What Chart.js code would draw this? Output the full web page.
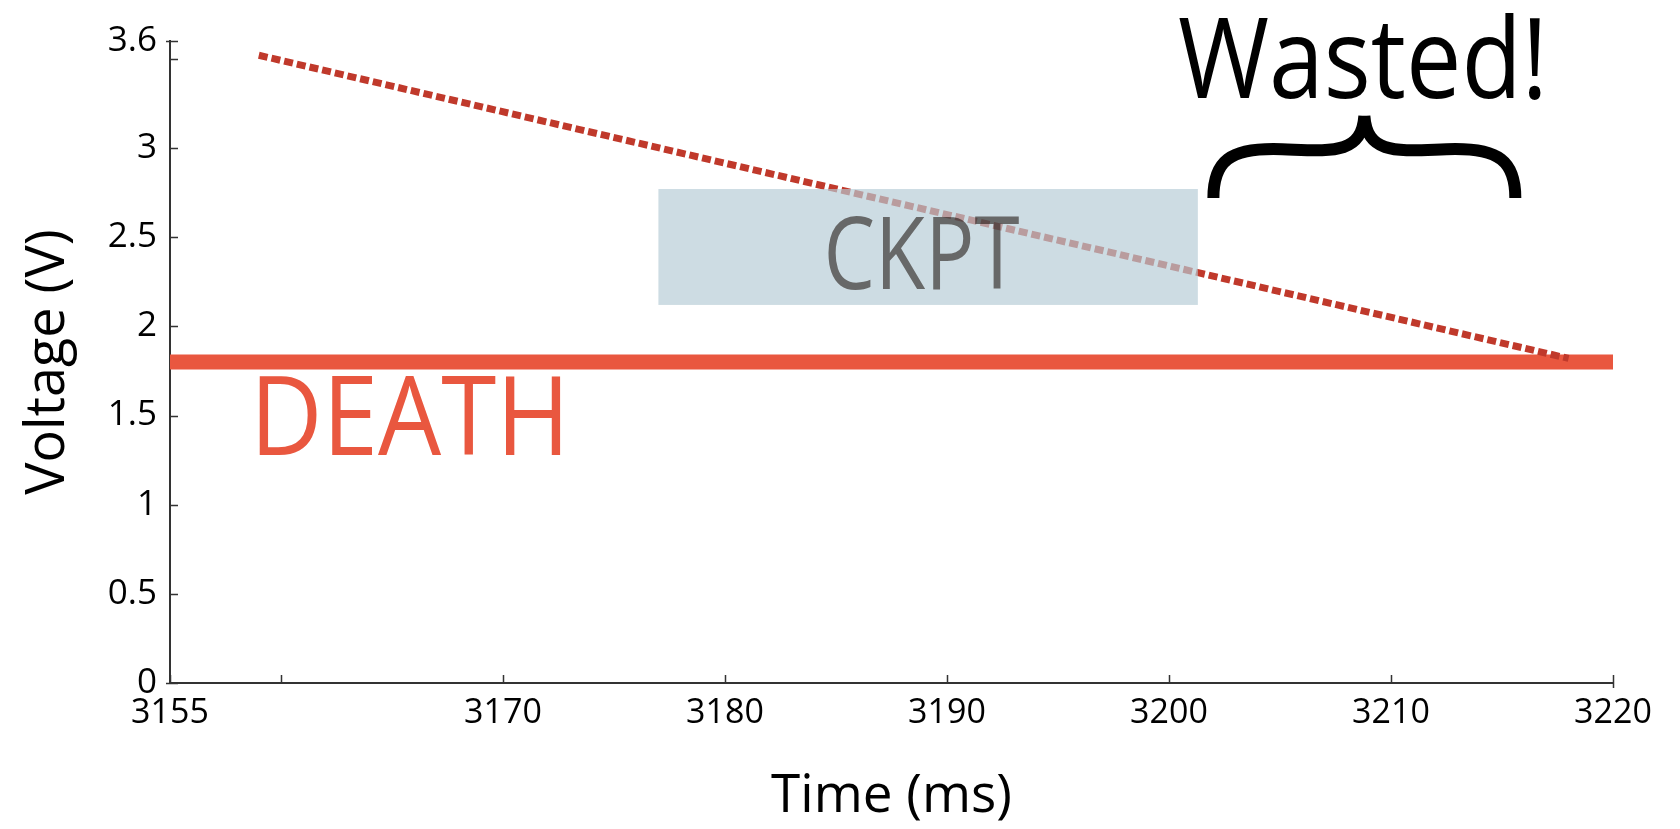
<!DOCTYPE html>
<html>
<head>
<meta charset="utf-8">
<script src="https://cdn.jsdelivr.net/npm/chart.js@4.4.1/dist/chart.umd.min.js"></script>
<style>
  html, body { margin: 0; padding: 0; background: #fff; }
  #wrap { width: 1680px; height: 829px; position: relative; }
</style>
</head>
<body>
<div id="wrap"><canvas id="chart"></canvas></div>
<script>
/* === Voltage vs time: checkpoint waste === */

// ── Data ──
const xTicks = [3155, 3160, 3170, 3180, 3190, 3200, 3210, 3220];
const xTickLabels = ['3155', '', '3170', '3180', '3190', '3200', '3210', '3220'];
const yTicks = [0, 0.5, 1, 1.5, 2, 2.5, 3, 3.5, 3.6];
const yTickLabels = ['0', '0.5', '1', '1.5', '2', '2.5', '3', '', '3.6'];

const voltTime = [3159, 3218];
const voltValues = [3.52, 1.82];
const deathTime = [3155, 3220];
const deathValues = [1.8, 1.8];

const ckptTime = [3177, 3201.3];
const ckptVolt = [2.12, 2.77];
const braceTime = [3202, 3215.6];
const braceVolt = [2.72, 3.0, 3.18]; // ends, arms, tip

const AXIS = '#333';
const FONT = "'Open Sans', 'Noto Sans', sans-serif";
Chart.defaults.font.family = FONT;

// ── Annotations (box, labels, brace) ──
const annotate = {
    id: 'annotate',
    afterDatasetsDraw(chart) {
        const { ctx, scales: { x, y } } = chart;
        ctx.save();

        // checkpoint box, drawn over the discharge line
        const bx0 = x.getPixelForValue(ckptTime[0]), bx1 = x.getPixelForValue(ckptTime[1]);
        const by0 = y.getPixelForValue(ckptVolt[1]), by1 = y.getPixelForValue(ckptVolt[0]);
        ctx.fillStyle = 'rgba(182,204,214,0.68)';
        ctx.fillRect(bx0, by0, bx1 - bx0, by1 - by0);

        ctx.textBaseline = 'alphabetic';
        ctx.globalCompositeOperation = 'multiply';
        ctx.fillStyle = 'rgb(128,120,117)';
        ctx.font = `101px ${FONT}`;
        ctx.textAlign = 'center';
        ctx.fillText('CKPT', x.getPixelForValue(3188.85), y.getPixelForValue(2.21), 196);
        ctx.globalCompositeOperation = 'source-over';

        ctx.fillStyle = '#e9573f';
        ctx.font = `109px ${FONT}`;
        ctx.textAlign = 'left';
        ctx.fillText('DEATH', x.getPixelForValue(3158.6), y.getPixelForValue(1.28), 320);

        ctx.fillStyle = '#000';
        ctx.font = `112px ${FONT}`;
        ctx.fillText('Wasted!', x.getPixelForValue(3200.4), y.getPixelForValue(3.28), 370);

        // curly brace under "Wasted!" (two halves, no miter spike)
        const L = x.getPixelForValue(braceTime[0]), R = x.getPixelForValue(braceTime[1]), M = (L + R) / 2;
        const B = y.getPixelForValue(braceVolt[0]), A = y.getPixelForValue(braceVolt[1]), T = y.getPixelForValue(braceVolt[2]);
        ctx.strokeStyle = '#000';
        ctx.lineWidth = 12;
        ctx.lineCap = 'butt';
        ctx.beginPath();
        ctx.moveTo(L, B);
        ctx.bezierCurveTo(L, A + 12, L + 18, A + 1, L + 60, A + 1);
        ctx.bezierCurveTo(M - 38, A + 2, M - 3, A + 10, M, T);
        ctx.moveTo(R, B);
        ctx.bezierCurveTo(R, A + 12, R - 18, A + 1, R - 60, A + 1);
        ctx.bezierCurveTo(M + 38, A + 2, M + 3, A + 10, M, T);
        ctx.stroke();

        ctx.restore();
    },
    afterDraw(chart) {
        // inward tick marks
        const { ctx, scales: { x, y } } = chart;
        ctx.save();
        ctx.strokeStyle = AXIS;
        ctx.lineWidth = 1.5;
        ctx.beginPath();
        const yb = y.getPixelForValue(0);
        x.ticks.forEach((t, i) => {
            const px = Math.round(x.getPixelForValue(t.value)) + 0.5;
            const out = (i === x.ticks.length - 1) ? 5 : 0;
            ctx.moveTo(px, yb + out); ctx.lineTo(px, yb - 8);
        });
        const xl = x.getPixelForValue(3155);
        y.ticks.forEach((t, i) => {
            const py = Math.round(y.getPixelForValue(t.value)) + 0.5;
            const out = (i === 0 || i === y.ticks.length - 1) ? 4 : 0;
            ctx.moveTo(xl - out, py); ctx.lineTo(xl + 8, py);
        });
        ctx.stroke();
        ctx.restore();
    }
};

// ── Chart ──
new Chart(document.getElementById('chart'), {
    type: 'line',
    data: {
        datasets: [{
            label: 'Voltage',
            data: voltTime.map((t, i) => ({ x: t, y: voltValues[i] })),
            borderColor: '#c0392b', borderWidth: 7, borderDash: [9, 4],
            borderCapStyle: 'butt', pointRadius: 0, tension: 0, fill: false,
        }, {
            label: 'Death',
            data: deathTime.map((t, i) => ({ x: t, y: deathValues[i] })),
            borderColor: '#e9573f', borderWidth: 15,
            borderCapStyle: 'butt', pointRadius: 0, tension: 0, fill: false,
        }]
    },
    options: {
        responsive: true, maintainAspectRatio: false, animation: false,
        layout: { padding: { top: 41, right: 67, left: 0, bottom: 0 } },
        plugins: { legend: { display: false }, tooltip: { enabled: false } },
        scales: {
            x: {
                type: 'linear', min: 3155, max: 3220,
                afterBuildTicks: s => { s.ticks = xTicks.map(v => ({ value: v })); },
                afterFit: s => { s.height = 146; },
                grid: { display: false, drawTicks: false },
                border: { display: true, color: AXIS, width: 2 },
                ticks: { autoSkip: false, maxRotation: 0, padding: 10, color: '#000',
                    font: { size: 34 }, callback: (v, i) => xTickLabels[i] },
                title: { display: true, text: 'Time (ms)', color: '#000',
                    font: { size: 53 }, padding: { top: 0, bottom: 0 } }
            },
            y: {
                min: 0, max: 3.6,
                afterBuildTicks: s => { s.ticks = yTicks.map(v => ({ value: v })); },
                afterFit: s => { s.width = 170; },
                grid: { display: false, drawTicks: false },
                border: { display: true, color: AXIS, width: 2 },
                ticks: { autoSkip: false, padding: 13, color: '#000',
                    font: { size: 35 }, callback: (v, i) => yTickLabels[i] },
                title: { display: true, text: 'Voltage (V)', color: '#000',
                    font: { size: 54 }, padding: { top: 16, bottom: 0 } }
            }
        }
    },
    plugins: [annotate]
});
</script>
</body>
</html>
